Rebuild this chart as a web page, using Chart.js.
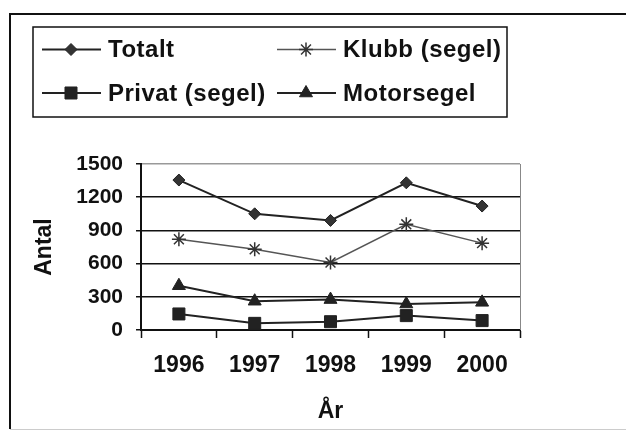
<!DOCTYPE html>
<html>
<head>
<meta charset="utf-8">
<script src="https://cdn.jsdelivr.net/npm/chart.js@4"></script>
<style>
  html, body { margin: 0; padding: 0; background: #fff; }
  #wrap { width: 626px; height: 432px; }
</style>
</head>
<body>
<div id="wrap"><canvas id="boatChart" width="626" height="432"></canvas></div>
<script>
const years = ['1996', '1997', '1998', '1999', '2000'];
const totalt = [1355, 1050, 990, 1330, 1120];
const klubb = [820, 730, 610, 955, 785];
const privat = [145, 60, 75, 130, 85];
const motorsegel = [400, 260, 275, 235, 250];
const yTicks = [0, 300, 600, 900, 1200, 1500];

const FONT = '"Liberation Sans", Arial, sans-serif';

// frame round the whole chart plus the legend box
const framePlugin = {
    id: 'frame',
    afterDraw(chart) {
        const c = chart.ctx;
        c.save();
        c.strokeStyle = '#111';
        c.lineWidth = 2;
        c.beginPath();
        c.moveTo(10, 429);
        c.lineTo(10, 14);
        c.lineTo(626, 14);
        c.stroke();
        c.strokeStyle = '#ccc';
        c.lineWidth = 1;
        c.beginPath();
        c.moveTo(10, 429.5);
        c.lineTo(626, 429.5);
        c.stroke();

        // plot area right border
        const a = chart.chartArea;
        c.strokeStyle = '#888';
        c.beginPath();
        c.moveTo(a.right + 0.5, a.top);
        c.lineTo(a.right + 0.5, a.bottom);
        c.stroke();

        // legend
        c.strokeStyle = '#111';
        c.lineWidth = 1.5;
        c.strokeRect(33, 27, 474, 90);
        const slots = [
            { ds: 0, x: 42, y: 49.5, tx: 108 },
            { ds: 1, x: 277, y: 49.5, tx: 343 },
            { ds: 2, x: 42, y: 93, tx: 108 },
            { ds: 3, x: 277, y: 93, tx: 343 },
        ];
        c.font = 'bold 24px ' + FONT;
        c.letterSpacing = '0.5px';
        c.textBaseline = 'middle';
        c.textAlign = 'left';
        slots.forEach(s => {
            const d = chart.data.datasets[s.ds];
            c.strokeStyle = d.borderColor;
            c.lineWidth = d.borderWidth;
            c.beginPath();
            c.moveTo(s.x, s.y);
            c.lineTo(s.x + 59, s.y);
            c.stroke();
            c.fillStyle = d.pointBackgroundColor;
            c.strokeStyle = d.pointBorderColor;
            c.lineWidth = d.pointBorderWidth;
            Chart.helpers.drawPoint(c, {
                pointStyle: d.pointStyle,
                radius: d.pointRadius,
                borderWidth: d.pointBorderWidth,
                rotation: 0,
            }, s.x + 29, s.y);
            c.fillStyle = '#111';
            c.fillText(d.label, s.tx, s.y + 1);
        });
        c.restore();
    }
};

const ctx = document.getElementById('boatChart').getContext('2d');
const boatChart = new Chart(ctx, {
    type: 'line',
    data: {
        labels: years,
        datasets: [{
            label: 'Totalt',
            data: totalt,
            borderColor: '#222',
            borderWidth: 2,
            pointStyle: 'rectRot',
            pointRadius: 6,
            pointBackgroundColor: '#333',
            pointBorderColor: '#222',
            pointBorderWidth: 1,
        }, {
            label: 'Klubb (segel)',
            data: klubb,
            borderColor: '#555',
            borderWidth: 1.5,
            pointStyle: 'star',
            pointRadius: 7,
            pointBackgroundColor: '#333',
            pointBorderColor: '#333',
            pointBorderWidth: 1.5,
        }, {
            label: 'Privat (segel)',
            data: privat,
            borderColor: '#222',
            borderWidth: 2,
            pointStyle: 'rect',
            pointRadius: 8.5,
            pointBackgroundColor: '#222',
            pointBorderColor: '#222',
            pointBorderWidth: 1,
        }, {
            label: 'Motorsegel',
            data: motorsegel,
            borderColor: '#222',
            borderWidth: 2,
            pointStyle: 'triangle',
            pointRadius: 7.5,
            pointBackgroundColor: '#222',
            pointBorderColor: '#222',
            pointBorderWidth: 1,
        }]
    },
    options: {
        responsive: false,
        animation: false,
        layout: { padding: { top: 164, right: 106, bottom: 0, left: 0 } },
        scales: {
            x: {
                offset: true,
                afterFit(scale) { scale.height = 102; },
                grid: {
                    offset: true,
                    drawOnChartArea: false,
                    drawTicks: true,
                    tickLength: 8,
                    tickColor: '#111',
                    tickWidth: 1.5,
                },
                border: { color: '#111', width: 2 },
                ticks: {
                    color: '#111',
                    padding: 14,
                    font: { family: FONT, size: 23, weight: 'bold' },
                },
                title: {
                    display: true,
                    text: 'År',
                    color: '#111',
                    padding: { top: 0, bottom: 7 },
                    font: { family: FONT, size: 23, weight: 'bold' },
                }
            },
            y: {
                min: 0,
                max: 1500,
                afterFit(scale) { scale.width = 141; },
                afterBuildTicks(scale) { scale.ticks = yTicks.map(v => ({ value: v })); },
                grid: {
                    color: c => c.tick && c.tick.value === 1500 ? '#999' : '#111',
                    lineWidth: 1.5,
                    tickLength: 5,
                    tickColor: '#111',
                    tickWidth: 1.5,
                },
                border: { color: '#111', width: 2 },
                ticks: {
                    color: '#111',
                    padding: 13,
                    callback: v => String(v),
                    font: { family: FONT, size: 21, weight: 'bold' },
                },
                title: {
                    display: true,
                    text: 'Antal',
                    color: '#111',
                    padding: { top: 31, bottom: 0 },
                    font: { family: FONT, size: 23, weight: 'bold' },
                }
            }
        },
        plugins: {
            legend: { display: false },
            tooltip: { enabled: false }
        }
    },
    plugins: [framePlugin]
});
</script>
</body>
</html>
